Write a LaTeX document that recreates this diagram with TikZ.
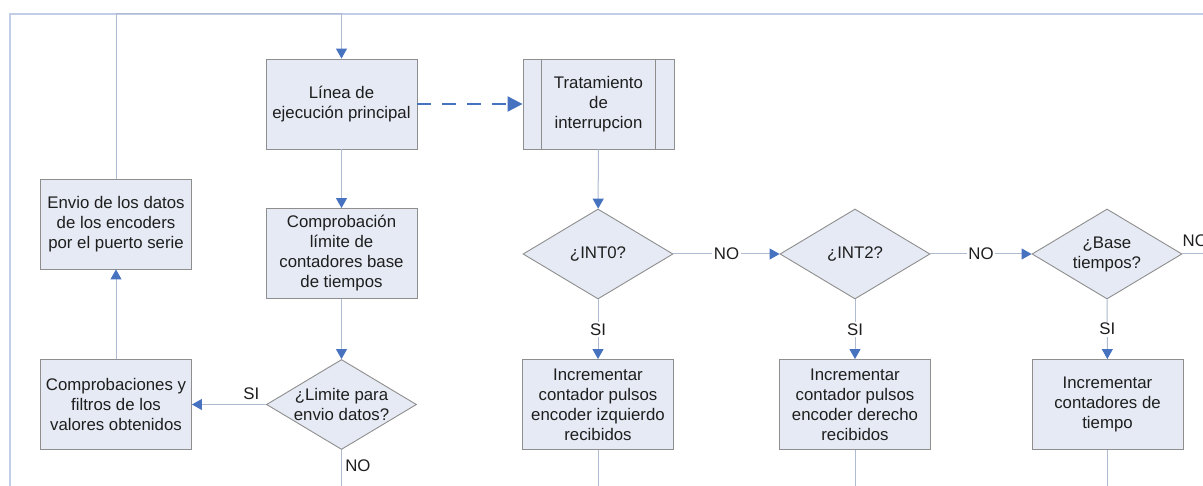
\documentclass[tikz,border=0pt]{standalone}
\usepackage{fontspec}
\setmainfont{Liberation Sans}
\usetikzlibrary{shapes.geometric,arrows.meta}
\definecolor{boxfill}{HTML}{E6EAF4}
\definecolor{boxline}{HTML}{8E8E8E}
\definecolor{conn}{HTML}{AEBBD0}
\definecolor{tipblue}{HTML}{4672C0}
\definecolor{framecol}{HTML}{C3CDE6}
\definecolor{txt}{HTML}{1E1E1E}

\begin{document}
\begin{tikzpicture}[x=1pt,y=-1pt,
  font=\fontsize{16.8}{20}\selectfont, text=txt,
  proc/.style={draw=boxline, fill=boxfill, line width=0.9pt,
    minimum width=151pt, minimum height=90pt, inner sep=0pt, align=center},
  dia/.style={diamond, draw=boxline, fill=boxfill, line width=0.9pt,
    minimum width=150pt, minimum height=90pt, inner sep=0pt},
  link/.style={draw=conn, line width=1pt},
  flow/.style={link, -{Triangle[width=11pt,length=10pt,color=tipblue]}},
  lbl/.style={fill=white, inner sep=1.5pt}
]
\useasboundingbox (0,0) rectangle (1203,486);
\clip (0,0) rectangle (1203,486);
\fill[white] (0,0) rectangle (1203,486);

% page frame
\draw[framecol, line width=1.2pt] (10,486) -- (10,14) -- (1203,14);

% main loop
\node[proc] (linea) at (341.5,104) {Línea de\\ejecución principal};
\node[proc] (comp) at (341.5,253.5) {Comprobación\\límite de\\contadores base\\de tiempos};
\node[dia] (lim) at (341.5,404.5) {};
\node[align=center] at (lim) {¿Limite para\\envio datos?};
\node[proc] (filt) at (116,404.5) {Comprobaciones y\\filtros de los\\valores obtenidos};
\node[proc] (envio) at (116,224) {Envio de los datos\\de los encoders\\por el puerto serie};

% interrupt routine
\node[proc] (trat) at (598.5,104) {Tratamiento\\de\\interrupcion};
\draw[boxline, line width=0.9pt]
  ([xshift=19pt]trat.north west) -- ([xshift=19pt]trat.south west)
  ([xshift=-19pt]trat.north east) -- ([xshift=-19pt]trat.south east);

\node[dia] (int0) at (598,254) {};
\node at (int0) {¿INT0?};
\node[dia] (int2) at (855,254) {};
\node at (int2) {¿INT2?};
\node[dia] (base) at (1107,254) {};
\node[align=center] at (base) {¿Base\\tiempos?};

\node[proc] (inc1) at (598,404.5) {Incrementar\\contador pulsos\\encoder izquierdo\\recibidos};
\node[proc] (inc2) at (855,404.5) {Incrementar\\contador pulsos\\encoder derecho\\recibidos};
\node[proc] (inc3) at (1107.5,404.5) {Incrementar\\contadores de\\tiempo};

% loose ends
\coordinate (top) at (341.5,14);
\coordinate (e0) at (341.5,486);
\coordinate (e1) at (598,486);
\coordinate (e2) at (855,486);
\coordinate (e3) at (1107.5,486);
\coordinate (e4) at (1203,254);

% connectors
\draw[link] (envio.north) |- (top);
\draw[flow] (top) -- (linea.north);
\draw[flow] (linea) -- (comp);
\draw[flow] (comp) -- (lim);
\draw[flow] (lim.west) -- node[above=1pt, pos=0.2]{SI} (filt.east);
\draw[link] (lim.south) -- node[right, pos=0.45]{NO} (e0);
\draw[flow] (filt) -- (envio);

\draw[tipblue, line width=2.2pt, dash pattern=on 14pt off 11pt,
  -{Triangle[width=15pt,length=15pt]}] (linea.east) -- (trat.west);

\draw[flow] (trat) -- (int0);
\draw[flow] (int0) -- node[lbl]{NO} (int2);
\draw[flow] (int2) -- node[lbl]{NO} (base);
\draw[link] (base.east) -- (e4);
\node[anchor=base west, inner sep=0pt] at ([yshift=7pt]base.east) {NO};

\draw[flow] (int0) -- node[lbl]{SI} (inc1);
\draw[flow] (int2) -- node[lbl]{SI} (inc2);
\draw[flow] (base) -- node[lbl]{SI} (inc3);
\draw[link] (inc1) -- (e1);
\draw[link] (inc2) -- (e2);
\draw[link] (inc3) -- (e3);
\end{tikzpicture}
\end{document}
